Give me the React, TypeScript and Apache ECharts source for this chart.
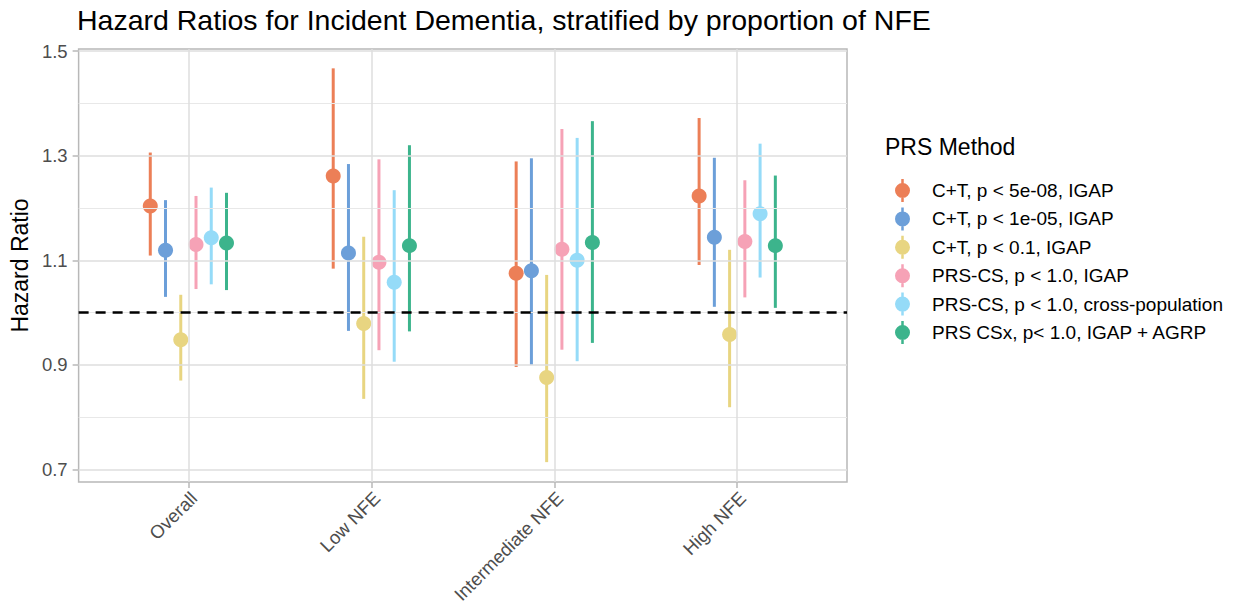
import React, { useEffect, useRef } from "react";
import * as echarts from "echarts";

// Strata along the x axis
const categories = ["Overall", "Low NFE", "Intermediate NFE", "High NFE"];

// PRS methods (legend order)
const methods = [
  "C+T, p < 5e-08, IGAP",
  "C+T, p < 1e-05, IGAP",
  "C+T, p < 0.1, IGAP",
  "PRS-CS, p < 1.0, IGAP",
  "PRS-CS, p < 1.0, cross-population",
  "PRS CSx, p< 1.0, IGAP + AGRP",
];

const methodColors = ["#EC7F57", "#6C9FD9", "#E8D581", "#F6A2B6", "#95DBF8", "#3CB48C"];

// Hazard ratio estimates and 95% CI bounds, one value per stratum
const hrCT5e8 = [1.204, 1.261, 1.075, 1.223];
const loCT5e8 = [1.109, 1.084, 0.896, 1.091];
const hiCT5e8 = [1.306, 1.467, 1.289, 1.372];

const hrCT1e5 = [1.119, 1.114, 1.08, 1.144];
const loCT1e5 = [1.03, 0.965, 0.9, 1.011];
const hiCT1e5 = [1.215, 1.284, 1.295, 1.296];

const hrCT01 = [0.948, 0.979, 0.876, 0.958];
const loCT01 = [0.87, 0.835, 0.714, 0.819];
const hiCT01 = [1.034, 1.145, 1.072, 1.12];

const hrPrsCs = [1.13, 1.096, 1.121, 1.136];
const loPrsCs = [1.045, 0.928, 0.929, 1.029];
const hiPrsCs = [1.223, 1.293, 1.351, 1.253];

const hrPrsCsCross = [1.143, 1.058, 1.1, 1.189];
const loPrsCsCross = [1.054, 0.906, 0.907, 1.067];
const hiPrsCsCross = [1.239, 1.234, 1.334, 1.323];

const hrPrsCsx = [1.133, 1.128, 1.134, 1.128];
const loPrsCsx = [1.043, 0.964, 0.942, 1.009];
const hiPrsCsx = [1.229, 1.32, 1.366, 1.262];

const estimates = [hrCT5e8, hrCT1e5, hrCT01, hrPrsCs, hrPrsCsCross, hrPrsCsx];
const lowers = [loCT5e8, loCT1e5, loCT01, loPrsCs, loPrsCsCross, loPrsCsx];
const uppers = [hiCT5e8, hiCT1e5, hiCT01, hiPrsCs, hiPrsCsCross, hiPrsCsx];

// Axis ticks
const yTickLabels = [0.7, 0.9, 1.1, 1.3, 1.5];
const yMinorGrid = [0.8, 1.0, 1.2, 1.4];
const referenceHR = 1.0;

const FONT = "'Liberation Sans', Arial, Helvetica, sans-serif";
const DODGE = 0.5;
// rotated category labels hang slightly to the right of their tick
const LABEL_NUDGE = 0.03;

// circle with a vertical bar through it, 15 x 23
const pointRangeIcon =
  "path://M6.25,0 L8.75,0 L8.75,23 L6.25,23 Z M0,11.5 A7.5,7.5 0 1,1 15,11.5 A7.5,7.5 0 1,1 0,11.5 Z";

export default function App() {
  const ref = useRef<HTMLDivElement>(null);

  useEffect(() => {
    if (!ref.current) return;
    const chart = echarts.init(ref.current, null, { renderer: "svg" });

    const n = methods.length;
    const makeRender = (mi: number) => (params: any, api: any) => {
      const x = api.value(0) + (mi - (n - 1) / 2) * (DODGE / n);
      const c = api.coord([x, api.value(1)]);
      const lo = api.coord([x, api.value(2)]);
      const hi = api.coord([x, api.value(3)]);
      const color = methodColors[mi];
      return {
        type: "group",
        children: [
          {
            type: "line",
            shape: { x1: hi[0], y1: hi[1], x2: lo[0], y2: lo[1] },
            style: { stroke: color, lineWidth: 3 },
          },
          {
            type: "circle",
            shape: { cx: c[0], cy: c[1], r: 7.5 },
            style: { fill: color },
          },
        ],
      };
    };

    const methodSeries = methods.map((name, mi) => ({
      name,
      type: "custom",
      z: 3,
      itemStyle: { color: methodColors[mi] },
      encode: { x: 0, y: [1, 2, 3] },
      renderItem: makeRender(mi),
      data: categories.map((_, ci) => [ci + 1, estimates[mi][ci], lowers[mi][ci], uppers[mi][ci]]),
    }));

    const gridLineSeries = {
      type: "line",
      name: "__grid",
      data: [],
      silent: true,
      z: 1,
      markLine: {
        silent: true,
        symbol: ["none", "none"],
        label: { show: false },
        animation: false,
        data: [
          ...yMinorGrid.map((v) => ({ yAxis: v, lineStyle: { color: "#e8e8e8", width: 1, type: "solid" } })),
          ...yTickLabels.map((v) => ({ yAxis: v, lineStyle: { color: "#dedede", width: 1.5, type: "solid" } })),
          ...categories.map((_, i) => ({ xAxis: i + 1, lineStyle: { color: "#dedede", width: 1.5, type: "solid" } })),
        ],
      },
    };

    const refLineSeries = {
      type: "line",
      name: "__ref",
      data: [],
      silent: true,
      z: 5,
      markLine: {
        silent: true,
        symbol: ["none", "none"],
        label: { show: false },
        animation: false,
        data: [{ yAxis: referenceHR, lineStyle: { color: "#000000", width: 2.6, type: [10, 7] } }],
      },
    };

    chart.setOption({
      animation: false,
      backgroundColor: "#ffffff",
      textStyle: { fontFamily: FONT },
      title: [
        {
          text: "Hazard Ratios for Incident Dementia, stratified by proportion of NFE",
          left: 77,
          top: 5,
          padding: 0,
          textStyle: { fontFamily: FONT, fontSize: 28.5, fontWeight: "normal", color: "#000000" },
        },
        {
          text: "PRS Method",
          left: 885,
          top: 135,
          padding: 0,
          textStyle: { fontFamily: FONT, fontSize: 23, fontWeight: "normal", color: "#000000" },
        },
      ],
      legend: {
        orient: "vertical",
        left: 895,
        top: 179,
        padding: 0,
        itemWidth: 15,
        itemHeight: 23,
        itemGap: 5.4,
        selectedMode: false,
        data: methods.map((name) => ({ name, icon: pointRangeIcon })),
        textStyle: { fontFamily: FONT, fontSize: 19, color: "#000000", padding: [0, 0, 0, 17] },
      },
      grid: {
        left: 78,
        right: 391,
        top: 49,
        bottom: 129,
        show: true,
        backgroundColor: "transparent",
        borderColor: "#b8b8b8",
        borderWidth: 1.5,
        containLabel: false,
      },
      xAxis: {
        type: "value",
        min: 0.4,
        max: 4.6,
        splitLine: { show: false },
        axisLine: { show: false },
        axisTick: {
          show: true,
          customValues: [1, 2, 3, 4],
          length: 6,
          lineStyle: { color: "#b8b8b8", width: 1.5 },
        },
        axisLabel: {
          customValues: categories.map((_, i) => i + 1 + LABEL_NUDGE),
          formatter: (v: number) => categories[Math.round(v) - 1] ?? "",
          rotate: 45,
          margin: 13,
          fontFamily: FONT,
          fontSize: 18.5,
          color: "#4d4d4d",
        },
      },
      yAxis: {
        type: "value",
        min: 0.676,
        max: 1.504,
        name: "Hazard Ratio",
        nameLocation: "middle",
        nameRotate: 90,
        nameGap: 44,
        nameTextStyle: { fontFamily: FONT, fontSize: 23, color: "#000000" },
        splitLine: { show: false },
        axisLine: { show: false },
        axisTick: {
          show: true,
          customValues: yTickLabels,
          length: 6,
          lineStyle: { color: "#b8b8b8", width: 1.5 },
        },
        axisLabel: {
          customValues: yTickLabels,
          formatter: (v: number) => v.toFixed(1),
          margin: 11,
          fontFamily: FONT,
          fontSize: 18.5,
          color: "#4d4d4d",
        },
      },
      series: [gridLineSeries, ...methodSeries, refLineSeries],
    });

    return () => chart.dispose();
  }, []);

  return (
    <div
      ref={ref}
      style={{ position: "fixed", left: 0, top: 0, width: 1238, height: 611, background: "#ffffff" }}
    />
  );
}
